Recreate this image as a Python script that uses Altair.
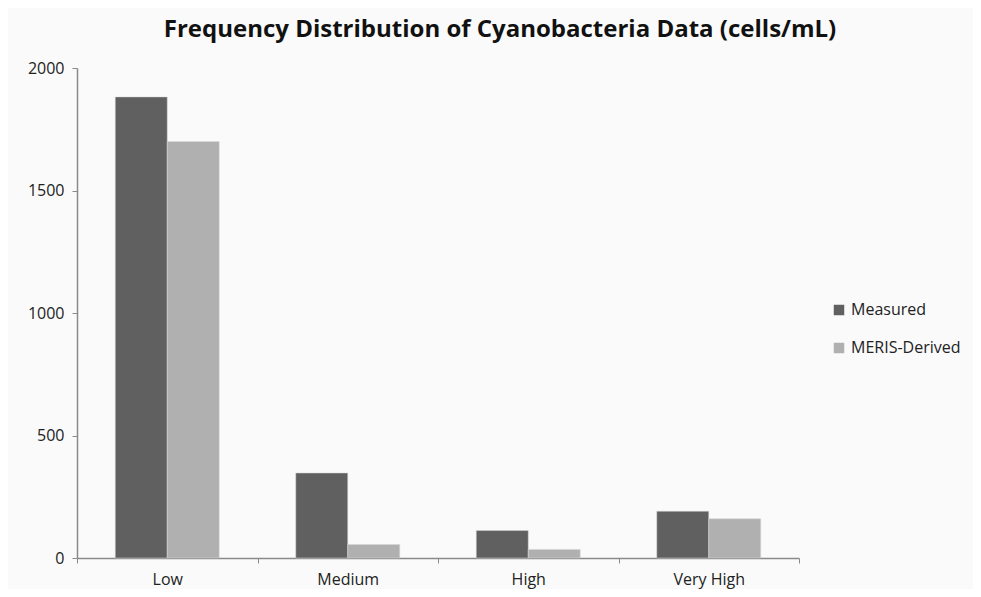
import altair as alt
import pandas as pd

categories = ["Low", "Medium", "High", "Very High"]
series = ["Measured", "MERIS-Derived"]
measured = [1882, 347, 112, 191]
meris = [1700, 55, 35, 160]

rows = []
for c, m, d in zip(categories, measured, meris):
    rows.append({"category": c, "series": series[0], "value": m})
    rows.append({"category": c, "series": series[1], "value": d})
df = pd.DataFrame(rows)

FONT = "Open Sans"

chart = alt.Chart(df).mark_bar(stroke="#d8d8d8", strokeWidth=0.5).encode(
    x=alt.X("category:N", sort=categories, title=None,
            scale=alt.Scale(paddingInner=0, paddingOuter=0),
            axis=alt.Axis(labelAngle=0, labelFontSize=16, labelColor="#222",
                          labelFont=FONT, domainColor="#8a8a8a", tickColor="#8a8a8a",
                          tickBand="extent", tickSize=5, labelPadding=8, domainWidth=1.5)),
    xOffset=alt.XOffset("series:N", sort=series,
                        scale=alt.Scale(paddingInner=0, paddingOuter=0.7356)),
    y=alt.Y("value:Q", title=None,
            scale=alt.Scale(domain=[0, 2000]),
            axis=alt.Axis(values=[0, 500, 1000, 1500, 2000], grid=False, format="d",
                          labelFontSize=16, labelColor="#222", labelFont=FONT,
                          domainColor="#8a8a8a", tickColor="#8a8a8a", tickSize=5,
                          labelPadding=8, domainWidth=1.5)),
    color=alt.Color("series:N", sort=series,
                    scale=alt.Scale(domain=series, range=["#606060", "#b0b0b0"]),
                    legend=alt.Legend(title=None, orient="none", legendX=754, legendY=234,
                                      symbolType="square", symbolSize=110,
                                      symbolStrokeWidth=0, labelFontSize=16,
                                      labelFont=FONT, labelColor="#222",
                                      rowPadding=22, labelOffset=4)),
).properties(
    width=722,
    height=490,
    autosize=alt.AutoSizeParams(type="none"),
    padding={"left": 69, "top": 60, "right": 174, "bottom": 31},
    background="#fafafa",
    title=alt.TitleParams("Frequency Distribution of Cyanobacteria Data (cells/mL)",
                          font=FONT, fontSize=24, fontWeight="bold", color="#111",
                          anchor="middle", frame="group", dx=62, offset=18),
).configure_view(stroke=None)

chart.save("out.html", embed_options={"renderer": "svg", "actions": False})
